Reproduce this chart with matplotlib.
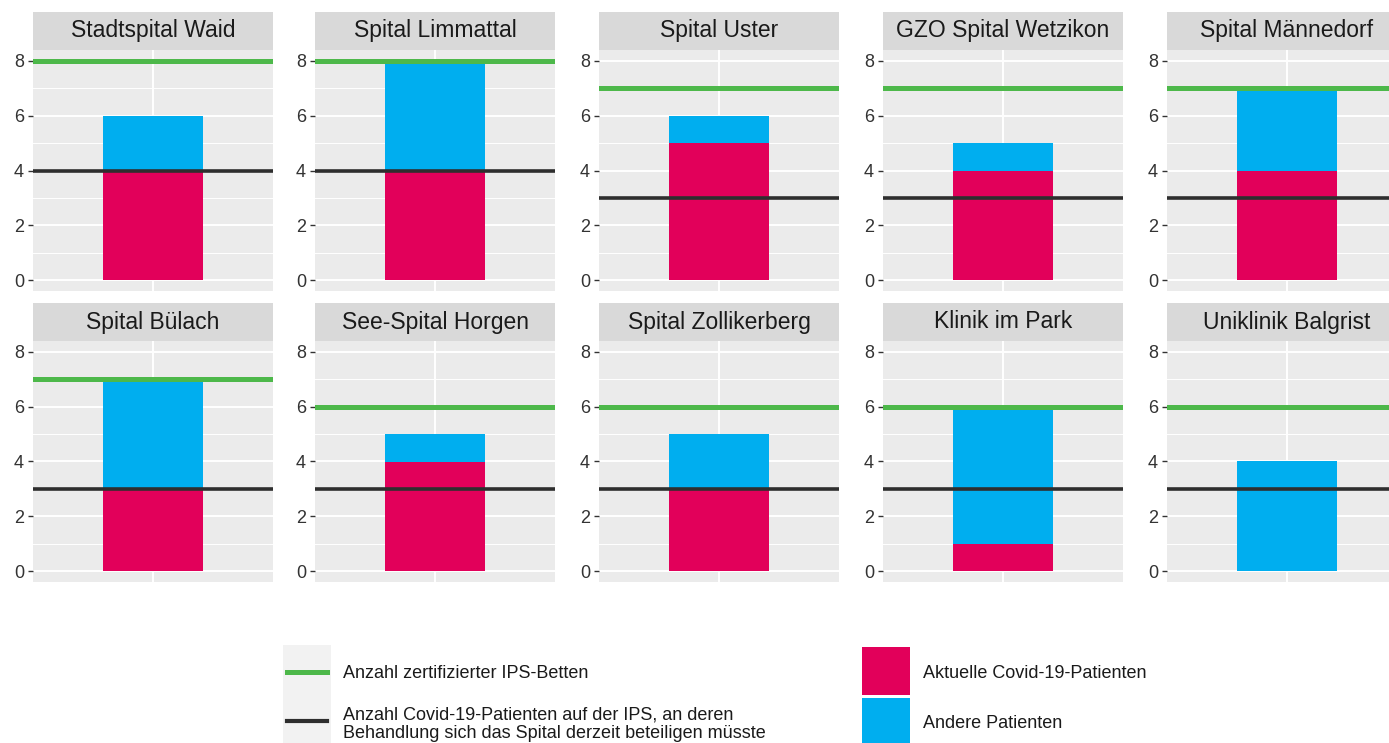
import matplotlib
matplotlib.use("Agg")
import matplotlib.pyplot as plt
from matplotlib.patches import Rectangle
from matplotlib.lines import Line2D

plt.rcParams['font.family'] = ['Liberation Sans', 'DejaVu Sans']

hospitals = ["Stadtspital Waid", "Spital Limmattal", "Spital Uster", "GZO Spital Wetzikon",
             "Spital Männedorf", "Spital Bülach", "See-Spital Horgen", "Spital Zollikerberg",
             "Klinik im Park", "Uniklinik Balgrist"]
covid = [4, 4, 5, 4, 4, 3, 4, 3, 1, 0]
andere = [2, 4, 1, 1, 3, 4, 1, 2, 5, 4]
ips_betten = [8, 8, 7, 7, 7, 7, 6, 6, 6, 6]
covid_soll = [4, 4, 3, 3, 3, 3, 3, 3, 3, 3]
y_ticks = [0, 2, 4, 6, 8]

legend_lines = ["Anzahl zertifizierter IPS-Betten",
                "Anzahl Covid-19-Patienten auf der IPS, an deren\nBehandlung sich das Spital derzeit beteiligen müsste"]
legend_fills = ["Aktuelle Covid-19-Patienten", "Andere Patienten"]

RED = '#E2005A'
BLUE = '#00AEEF'
GREEN = '#4DB84A'
DARK = '#2E2E2E'
PANEL = '#EBEBEB'
STRIP = '#D9D9D9'
TXT = '#1A1A1A'

W, H = 1389, 743
fig = plt.figure(figsize=(W / 100, H / 100), dpi=100)
fig.patch.set_facecolor('white')

lefts = [33, 315, 599, 883, 1167]
pw = 240
rows = [(50, 291), (341, 582)]
strip_h = 38

for i, name in enumerate(hospitals):
    r, c = divmod(i, 5)
    top, bot = rows[r]
    ax = fig.add_axes([lefts[c] / W, 1 - bot / H, pw / W, (bot - top) / H])
    ax.set_facecolor(PANEL)
    ax.set_xlim(0.4, 1.6)
    ax.set_ylim(-0.4, 8.4)
    ax.set_yticks(y_ticks)
    ax.set_yticks([1, 3, 5, 7], minor=True)
    ax.set_xticks([1])
    ax.set_xticklabels([])
    ax.tick_params(axis='x', length=0)
    ax.grid(which='major', color='white', lw=1.4)
    ax.grid(which='minor', axis='y', color='white', lw=0.7)
    ax.set_axisbelow(True)
    for s in ax.spines.values():
        s.set_visible(False)
    ax.bar(1, covid[i], width=0.5, color=RED, zorder=2)
    ax.bar(1, andere[i], bottom=covid[i], width=0.5, color=BLUE, zorder=2)
    ax.axhline(ips_betten[i], color=GREEN, lw=3.6, zorder=3)
    ax.axhline(covid_soll[i], color=DARK, lw=2.6, zorder=3)
    ax.tick_params(axis='y', which='major', length=3.5, width=1, color='#333333',
                   labelsize=13, labelcolor='#333333', pad=3)
    ax.tick_params(axis='y', which='minor', length=0)

    sax = fig.add_axes([lefts[c] / W, 1 - top / H, pw / W, strip_h / H])
    sax.set_facecolor(STRIP)
    sax.set_xticks([])
    sax.set_yticks([])
    for s in sax.spines.values():
        s.set_visible(False)
    sax.text(0.5, 0.5, name, ha='center', va='center', fontsize=16.5, color=TXT,
             transform=sax.transAxes)

# legend
lg = fig.add_axes([0, 0, 1, 1])
lg.set_xlim(0, W)
lg.set_ylim(H, 0)
lg.axis('off')
lg.patch.set_alpha(0)
lg.add_patch(Rectangle((283, 645), 48, 100, color='#F2F2F2', lw=0))
lg.add_line(Line2D([287, 327], [672, 672], color=GREEN, lw=3.6))
lg.add_line(Line2D([287, 327], [721, 721], color=DARK, lw=3.0))
lg.text(343, 673, legend_lines[0], ha='left', va='center', fontsize=13, color=TXT)
for k, part in enumerate(legend_lines[1].split('\n')):
    lg.text(343, 715 + 19 * k, part, ha='left', va='center', fontsize=13, color=TXT)
lg.add_patch(Rectangle((862, 647), 48, 48, color=RED, lw=0))
lg.add_patch(Rectangle((862, 698), 48, 48, color=BLUE, lw=0))
lg.text(923, 673, legend_fills[0], ha='left', va='center', fontsize=13, color=TXT)
lg.text(923, 723, legend_fills[1], ha='left', va='center', fontsize=13, color=TXT)

fig.savefig('out.png', dpi=100)
